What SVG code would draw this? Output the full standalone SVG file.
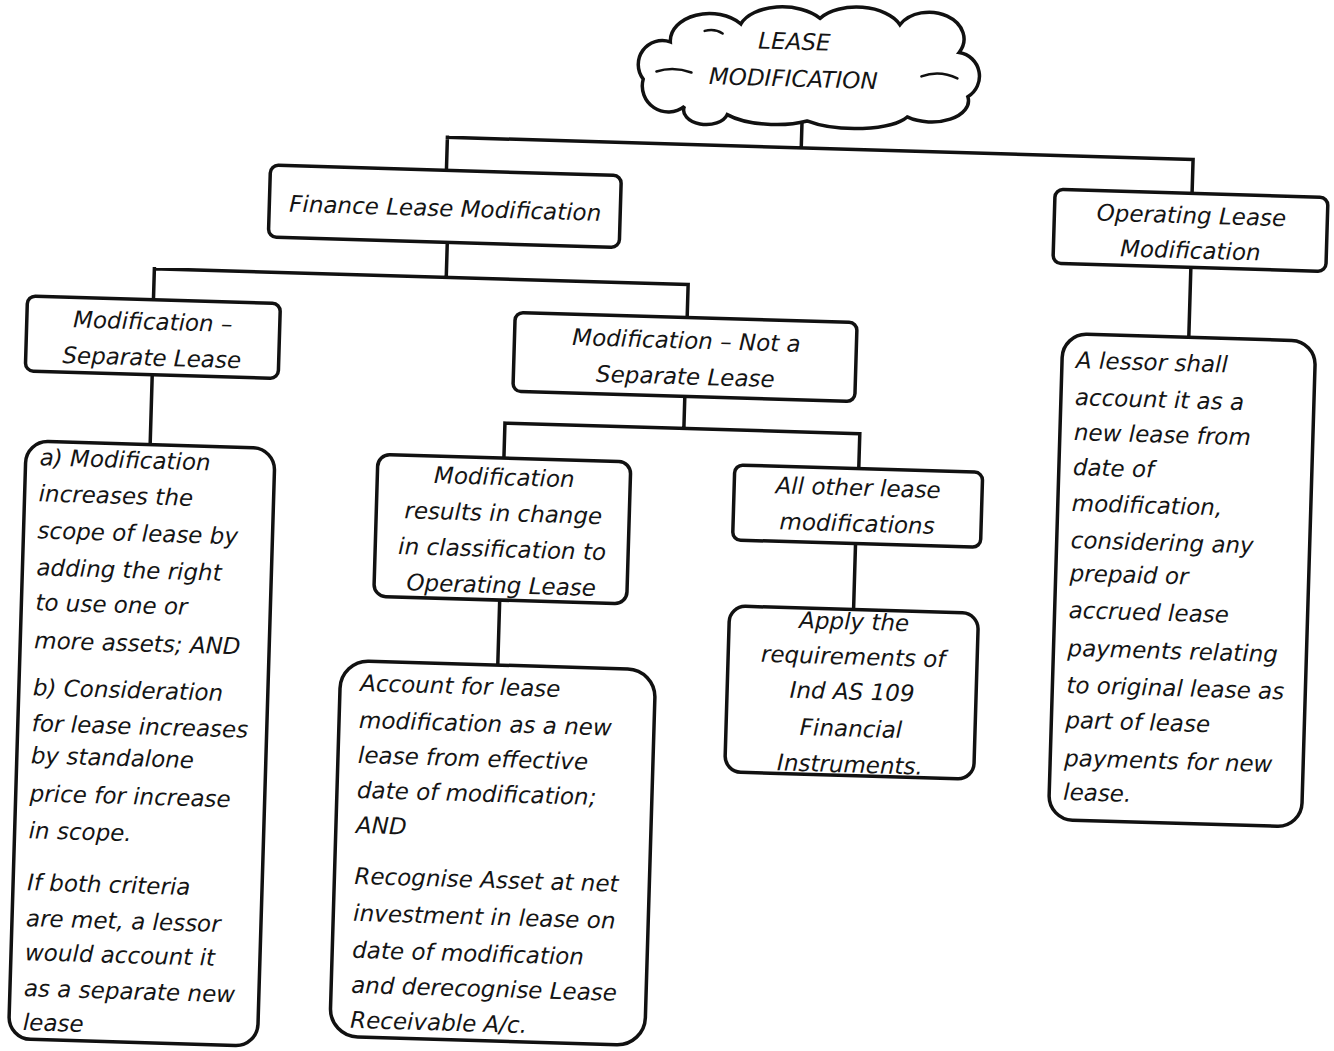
<svg xmlns="http://www.w3.org/2000/svg" width="1334" height="1051" viewBox="0 0 1334 1051">
  <style>
    .box { fill: #ffffff; stroke: #111111; stroke-width: 3.5; }
    .wire { fill: none; stroke: #111111; stroke-width: 3.5; stroke-linecap: square; }
    .curl { fill: none; stroke: #111111; stroke-width: 2.5; stroke-linecap: round; }
    .t { font-family: "DejaVu Sans", "Open Sans", sans-serif; font-style: italic; font-size: 23px; fill: #141414; }
    .c { text-anchor: middle; }
  </style>
  <rect x="0" y="0" width="1334" height="1051" fill="#ffffff"/>
  <!-- the whole sheet sits slightly skewed -->
  <g transform="rotate(1.7 667 525)">
    <g id="connectors">
      <path class="wire" d="M790,117 V144 M436,144 H1182 M436,144 V177 M1182,144 V178"/>
      <path class="wire" d="M439,249 V284 M147,284 H681 M147,284 V315 M681,284 V317"/>
      <path class="wire" d="M148,390 V460"/>
      <path class="wire" d="M681,396 V428 M502,428 H857 M502,428 V463 M857,428 V463"/>
      <path class="wire" d="M502,605 V670"/>
      <path class="wire" d="M856,538 V604"/>
      <path class="wire" d="M1183,252 V322"/>
    </g>

    <g id="lease-modification">
      <path class="box" d="M672,106 A26,26 0 0 1 630,80 A24,24 0 0 1 656,42 A40,28 0 0 1 726,22 A45,26 0 0 1 805,14 A45,26 0 0 1 885,18 A34,26 0 0 1 945,44 A24,24 0 0 1 955,88 A38,22 0 0 1 895,110 A60,20 0 0 1 795,117 A55,20 0 0 1 715,113 A22,14 0 0 1 672,106 Z"/>
      <path class="curl" d="M643,72 Q660,66 678,72 M944,70 Q926,62 908,69 M690,30 Q700,27 708,32"/>
      <text class="t c" x="780" y="46">LEASE</text>
      <text class="t c" x="780" y="83">MODIFICATION</text>
    </g>

    <g id="finance-lease">
      <rect class="box" x="260" y="177" width="351" height="72" rx="8"/>
      <text class="t c" x="436" y="223">Finance Lease Modification</text>
    </g>

    <g id="operating-lease">
      <rect class="box" x="1045" y="178" width="273" height="74" rx="8"/>
      <text class="t c" x="1182" y="208">Operating Lease</text>
      <text class="t c" x="1182" y="243">Modification</text>
    </g>

    <g id="separate-lease">
      <rect class="box" x="21" y="315" width="253" height="75" rx="8"/>
      <text class="t c" x="147" y="345">Modification –</text>
      <text class="t c" x="147" y="381">Separate Lease</text>
    </g>

    <g id="not-separate-lease">
      <rect class="box" x="509" y="317" width="342" height="79" rx="8"/>
      <text class="t c" x="681" y="348">Modification – Not a</text>
      <text class="t c" x="681" y="384">Separate Lease</text>
    </g>

    <g id="separate-criteria">
      <rect class="box" x="24" y="460" width="249" height="598" rx="22"/>
      <text class="t" x="38" y="484">a) Modification</text>
      <text class="t" x="38" y="520">increases the</text>
      <text class="t" x="38" y="557">scope of lease by</text>
      <text class="t" x="38" y="594">adding the right</text>
      <text class="t" x="38" y="629">to use one or</text>
      <text class="t" x="38" y="667">more assets; AND</text>
      <text class="t" x="38" y="714">b) Consideration</text>
      <text class="t" x="38" y="750">for lease increases</text>
      <text class="t" x="38" y="782">by standalone</text>
      <text class="t" x="38" y="820">price for increase</text>
      <text class="t" x="38" y="857">in scope.</text>
      <text class="t" x="38" y="909">If both criteria</text>
      <text class="t" x="38" y="945">are met, a lessor</text>
      <text class="t" x="38" y="979">would account it</text>
      <text class="t" x="38" y="1015">as a separate new</text>
      <text class="t" x="38" y="1049">lease</text>
    </g>

    <g id="change-to-operating">
      <rect class="box" x="376" y="463" width="253" height="142" rx="12"/>
      <text class="t c" x="503" y="490">Modification</text>
      <text class="t c" x="503" y="526">results in change</text>
      <text class="t c" x="503" y="562">in classification to</text>
      <text class="t c" x="503" y="598">Operating Lease</text>
    </g>

    <g id="all-other">
      <rect class="box" x="733" y="463" width="248" height="75" rx="8"/>
      <text class="t c" x="857" y="490">All other lease</text>
      <text class="t c" x="857" y="526">modifications</text>
    </g>

    <g id="new-lease-account">
      <rect class="box" x="345" y="670" width="315" height="376" rx="28"/>
      <text class="t" x="365" y="700">Account for lease</text>
      <text class="t" x="365" y="737">modification as a new</text>
      <text class="t" x="365" y="772">lease from effective</text>
      <text class="t" x="365" y="807">date of modification;</text>
      <text class="t" x="365" y="842">AND</text>
      <text class="t" x="365" y="893">Recognise Asset at net</text>
      <text class="t" x="365" y="930">investment in lease on</text>
      <text class="t" x="365" y="967">date of modification</text>
      <text class="t" x="365" y="1002">and derecognise Lease</text>
      <text class="t" x="365" y="1037">Receivable A/c.</text>
    </g>

    <g id="ind-as-109">
      <rect class="box" x="732" y="604" width="249" height="166" rx="16"/>
      <text class="t c" x="857" y="624">Apply the</text>
      <text class="t c" x="857" y="659">requirements of</text>
      <text class="t c" x="857" y="694">Ind AS 109</text>
      <text class="t c" x="857" y="731">Financial</text>
      <text class="t c" x="857" y="767">Instruments.</text>
    </g>

    <g id="operating-new-lease">
      <rect class="box" x="1057" y="322" width="253" height="486" rx="24"/>
      <text class="t" x="1071" y="356">A lessor shall</text>
      <text class="t" x="1071" y="393">account it as a</text>
      <text class="t" x="1071" y="428">new lease from</text>
      <text class="t" x="1071" y="463">date of</text>
      <text class="t" x="1071" y="499">modification,</text>
      <text class="t" x="1071" y="536">considering any</text>
      <text class="t" x="1071" y="569">prepaid or</text>
      <text class="t" x="1071" y="606">accrued lease</text>
      <text class="t" x="1071" y="644">payments relating</text>
      <text class="t" x="1071" y="681">to original lease as</text>
      <text class="t" x="1071" y="716">part of lease</text>
      <text class="t" x="1071" y="754">payments for new</text>
      <text class="t" x="1071" y="788">lease.</text>
    </g>
  </g>
</svg>
